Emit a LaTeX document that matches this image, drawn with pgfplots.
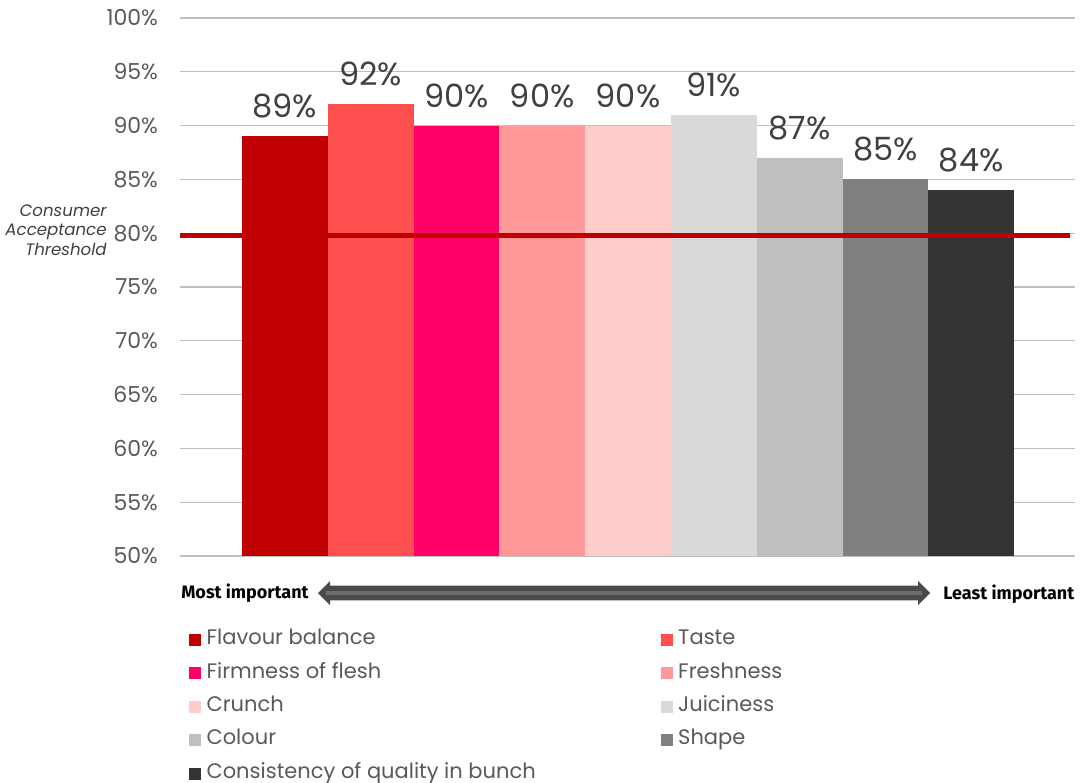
\documentclass[border=0pt]{standalone}
\usepackage{fontspec}
\setmainfont{Poppins}
\newfontfamily\condfont{Fira Sans}
\usepackage{pgfplots}
\pgfplotsset{compat=1.18}
\definecolor{c1}{HTML}{C00000}
\definecolor{c2}{HTML}{FF5050}
\definecolor{c3}{HTML}{FF0066}
\definecolor{c4}{HTML}{FF9999}
\definecolor{c5}{HTML}{FFCCCC}
\definecolor{c6}{HTML}{D9D9D9}
\definecolor{c7}{HTML}{BFBFBF}
\definecolor{c8}{HTML}{808080}
\definecolor{c9}{HTML}{333333}
\definecolor{txt}{HTML}{595959}
\definecolor{lbl}{HTML}{404040}
\definecolor{grid}{HTML}{D9D9D9}
\definecolor{arr}{HTML}{4A4A4A}
\definecolor{arrin}{HTML}{6E6E6E}
\begin{document}
\begin{tikzpicture}
\useasboundingbox (-90pt,-113pt) rectangle (450pt,278pt);
\begin{axis}[
  at={(0pt,0pt)}, anchor=south west,
  scale only axis, width=447.5pt, height=269pt,
  xmin=-1.222, xmax=9.209, ymin=50, ymax=100,
  axis line style={draw=none},
  xtick=\empty,
  ytick={50,55,...,100},
  yticklabel={\pgfmathprintnumber{\tick}\%},
  yticklabel style={font=\fontsize{11pt}{13pt}\selectfont, text=txt, xshift=-7.5pt},
  /pgf/number format/assume math mode=true,
  major tick length=0pt,
  ymajorgrids, grid style={grid, line width=0.6pt},
  bar width=1,
  ybar, 
  every axis plot/.append style={bar shift=0pt, draw=none},
  nodes near coords={\pgfmathprintnumber{\pgfplotspointmeta}\%},
  nodes near coords style={font=\fontsize{16pt}{18pt}\selectfont, text=lbl, /pgf/number format/assume math mode=true, yshift=5.5pt},
  legend columns=2,
  legend cell align=left,
  legend style={at={(0.003,-0.125)}, anchor=north west, draw=none, fill=none,
    font=\fontsize{10.5pt}{12pt}\selectfont, text=txt,
    nodes={inner sep=1pt, text height=7.5pt, text depth=2.5pt},
    row sep=4.7pt,
    /tikz/every even column/.append style={column sep=61.5pt}},
  legend image code/.code={\fill[#1] (0pt,-3.2pt) rectangle (6pt,2.8pt);},
  clip=false,
]
\addplot[fill=c1] coordinates {(0,89)};
\addlegendentry{\,Flavour balance}
\addplot[fill=c2] coordinates {(1,92)};
\addlegendentry{\,Taste}
\addplot[fill=c3] coordinates {(2,90)};
\addlegendentry{\,Firmness of flesh}
\addplot[fill=c4] coordinates {(3,90)};
\addlegendentry{\,Freshness}
\addplot[fill=c5] coordinates {(4,90)};
\addlegendentry{\,Crunch}
\addplot[fill=c6] coordinates {(5,91)};
\addlegendentry{\,Juiciness}
\addplot[fill=c7] coordinates {(6,87)};
\addlegendentry{\,Colour}
\addplot[fill=c8] coordinates {(7,85)};
\addlegendentry{\,Shape}
\addplot[fill=c9] coordinates {(8,84)};
\addlegendentry{\,Consistency of quality in bunch}
\addplot[sharp plot, draw=c1, line width=2.6pt, nodes near coords={}, forget plot] coordinates {(-1.222,79.8) (9.15,79.8)};
\node[anchor=east, align=right, font=\fontsize{8.3pt}{9.8pt}\selectfont\itshape, text=lbl, inner sep=0pt]
  at ([xshift=-36.5pt]axis cs:-1.222,80.3) {Consumer\\Acceptance\\Threshold};
\end{axis}
% importance arrow
\fill[arr] (69pt,-18.5pt) -- (75pt,-12.5pt) -- (75pt,-14.8pt) -- (369pt,-14.8pt) -- (369pt,-12.5pt) -- (375pt,-18.5pt) -- (369pt,-24.5pt) -- (369pt,-22.2pt) -- (75pt,-22.2pt) -- (75pt,-24.5pt) -- cycle;
\draw[arrin, line width=1.6pt] (73pt,-18.5pt) -- (371pt,-18.5pt);
\node[anchor=east, font=\condfont\bfseries\fontsize{9pt}{10pt}\selectfont, inner sep=0pt] at (64.5pt,-18.5pt) {Most important};
\node[anchor=west, font=\condfont\bfseries\fontsize{9pt}{10pt}\selectfont, inner sep=0pt] at (381.5pt,-19.2pt) {Least important};
\end{tikzpicture}
\end{document}
